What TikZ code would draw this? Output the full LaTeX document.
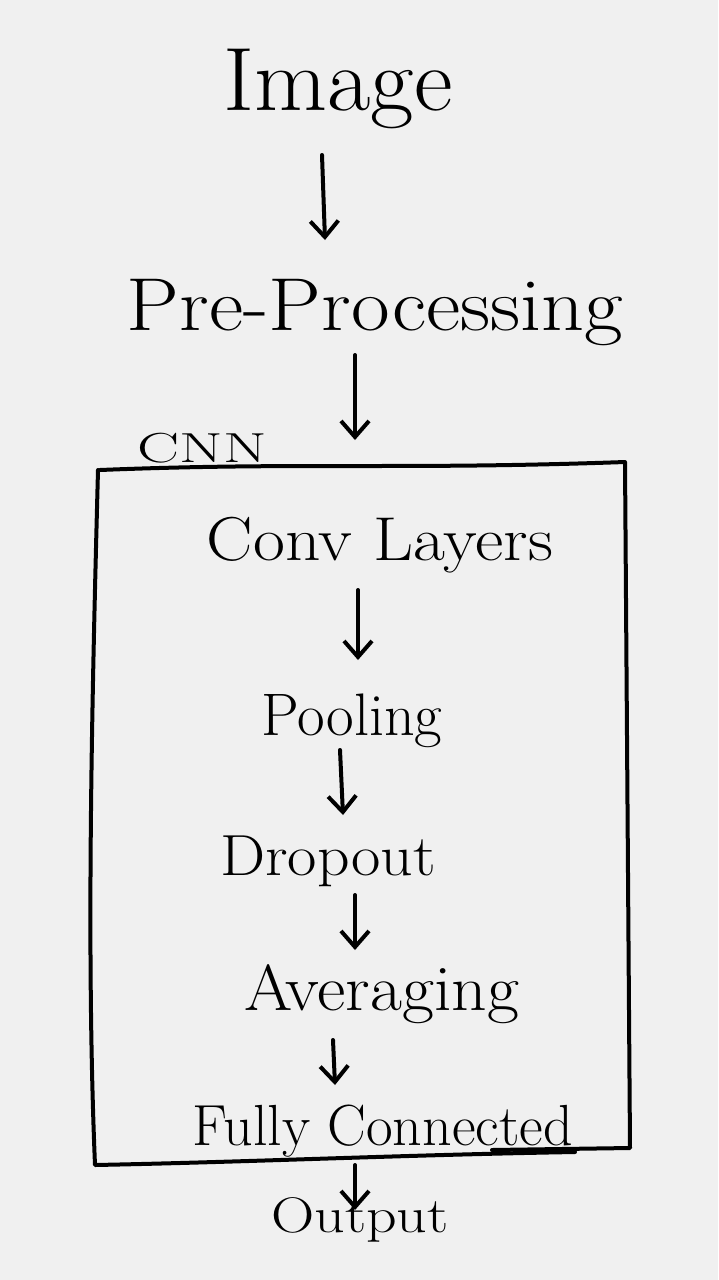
\documentclass[tikz,border=0pt]{standalone}
\usetikzlibrary{arrows.meta,calc}
\newcommand\hwtext[3]{\scalebox{#1}[1]{\fontsize{#2}{#2}\selectfont #3}}
\begin{document}
\begin{tikzpicture}[x=1pt,y=-1pt,
  lbl/.style={inner sep=0pt, text=black, anchor=base},
  flow/.style={line width=4pt, line cap=round, -{Straight Barb[length=16pt,width=28pt,line width=4pt]}},
  frame/.style={line width=4pt, line join=round, line cap=round}]
\fill[fill=white!88!gray] (0,0) rectangle (718,1280);
\useasboundingbox (0,0) rectangle (718,1280);
% nodes
\node[lbl] (img) at (338,110) {\hwtext{1.05}{90}{Image}};
\node[lbl] (pre) at (375,330) {\hwtext{1.12}{75}{Pre-Processing}};
\node[lbl] (cnn) at (202,462) {\hwtext{1.5}{42}{CNN}};
\node[lbl] (conv) at (380,560) {\hwtext{1.12}{62}{Conv Layers}};
\node[lbl] (pool) at (352,735) {\hwtext{1.0}{60}{Pooling}};
\node[lbl] (drop) at (328,875) {\hwtext{1.1}{58}{Dropout}};
\node[lbl] (avg) at (382,1010) {\hwtext{1.07}{65}{Averaging}};
\node[lbl] (fc) at (383,1145) {\hwtext{1.0}{58}{Fully Connected}};
\node[lbl] (out) at (360,1232) {\hwtext{1.2}{50}{Output}};
% CNN frame
\draw[frame] (100,470) .. controls (300,462) and (400,470) .. (625,462)
  -- (630,1148) -- (492,1150);
\draw[frame] (98,470) .. controls (92,700) and (86,950) .. (95,1165)
  .. controls (250,1162) and (400,1155) .. (575,1152);
% connectors
\draw[flow] ($(img.base)+(-16,45)$) -- ($(pre.base)+(-50,-90)$);
\draw[flow] ($(pre.base)+(-20,25)$) -- ($(cnn.base)+(153,-22)$);
\draw[flow] ($(conv.base)+(-22,30)$) -- ($(pool.base)+(6,-75)$);
\draw[flow] ($(pool.base)+(-12,15)$) -- ($(drop.base)+(15,-60)$);
\draw[flow] ($(drop.base)+(27,20)$) -- ($(avg.base)+(-27,-60)$);
\draw[flow] ($(avg.base)+(-49,30)$) -- ($(fc.base)+(-48,-60)$);
\draw[flow] ($(fc.base)+(-28,20)$) -- ($(out.base)+(-5,-22)$);
\end{tikzpicture}
\end{document}
